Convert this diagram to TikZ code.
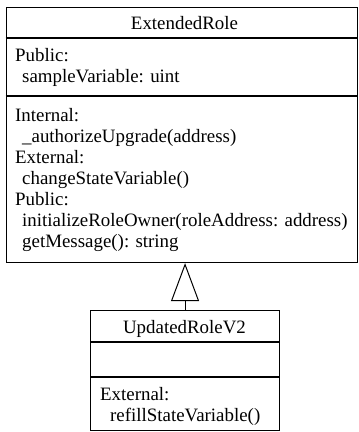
\documentclass[tikz,border=0pt]{standalone}
\usepackage{fontspec}
\setmainfont{Liberation Serif}
\usetikzlibrary{arrows.meta}
\begin{document}
\begin{tikzpicture}[x=1pt,y=-1pt,
  classbox/.style={draw=black, line width=1.1pt, rectangle, inner sep=0pt, anchor=north west},
  divider/.style={draw=black, line width=1.1pt},
  txt/.style={anchor=base west, inner sep=0pt, font=\fontsize{18.9}{21}\selectfont},
  ttl/.style={anchor=base, inner sep=0pt, font=\fontsize{18.9}{21}\selectfont},
  inherit/.style={draw=black, line width=1pt, -{Triangle[open, length=38pt, width=28pt, line width=1pt]}}]
\useasboundingbox (0,0) rectangle (359,432);
% ExtendedRole
\node[classbox, minimum width=351pt, minimum height=255pt] (ex) at (5.5,7) {};
\draw[divider] (5.5,38) coordinate (exd1a) -- (356.5,38) coordinate (exd1b);
\draw[divider] (5.5,96) coordinate (exd2a) -- (356.5,96) coordinate (exd2b);
\node[ttl] (extitle) at (184.5,29) {ExtendedRole};
\node[txt] (e1) at (15,61) {Public:};
\node[txt] (e2) at (22,82) {sampleVariable: uint};
\node[txt] (e3) at (15,121) {Internal:};
\node[txt] (e4) at (22,142) {\_authorizeUpgrade(address)};
\node[txt] (e5) at (15,163) {External:};
\node[txt] (e6) at (22,184) {changeStateVariable()};
\node[txt] (e7) at (15,205) {Public:};
\node[txt] (e8) at (22,226) {initializeRoleOwner(roleAddress: address)};
\node[txt] (e9) at (22,247) {getMessage(): string};
% UpdatedRoleV2
\node[classbox, minimum width=189pt, minimum height=120pt] (ub) at (90,310) {};
\draw[divider] (90,342) coordinate (ubd1a) -- (279,342) coordinate (ubd1b);
\draw[divider] (90,377) coordinate (ubd2a) -- (279,377) coordinate (ubd2b);
\node[ttl] (ubtitle) at (184.5,333) {UpdatedRoleV2};
\node[txt] (u1) at (100,400) {External:};
\node[txt] (u2) at (110,421) {refillStateVariable()};
% inheritance
\draw[inherit] (ub.north) -- (ub.north |- ex.south);
\end{tikzpicture}
\end{document}
